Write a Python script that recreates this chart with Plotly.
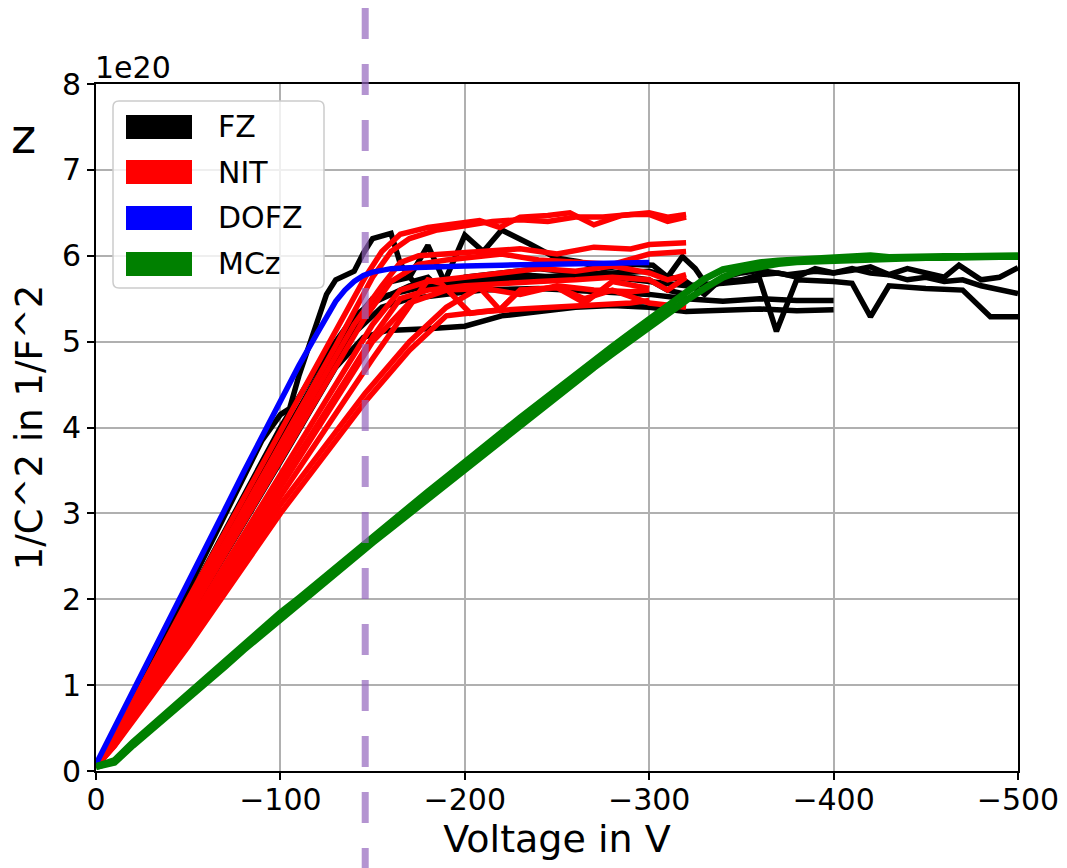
import plotly.graph_objects as go

# ---------------- data (y in units of 1e20 1/F^2) ----------------
SCALE = 1e20

# FZ (black)
fz1_v = [0, -10, -50, -90, -100, -105, -110, -120, -125, -130, -140, -145, -150, -160, -165, -172, -180, -187, -200, -210, -220, -235, -250, -262, -275, -290, -302, -310, -318, -325, -332, -340, -350, -360, -370, -380, -390, -400, -410, -420, -430, -440, -450, -460, -470, -480, -490, -500]
fz1_y = [0.05, 0.45, 2.12, 3.85, 4.15, 4.22, 4.6, 5.25, 5.55, 5.72, 5.82, 6.03, 6.2, 6.26, 5.91, 5.7, 5.75, 5.6, 6.24, 6.05, 6.3, 6.14, 5.97, 5.93, 5.85, 5.9, 5.89, 5.75, 5.99, 5.85, 5.63, 5.7, 5.72, 5.78, 5.8, 5.75, 5.85, 5.8, 5.85, 5.8, 5.78, 5.72, 5.75, 5.7, 5.72, 5.65, 5.6, 5.56]

fz2_v = [0, -10, -100, -130, -140, -150, -160, -170, -180, -200, -220, -240, -260, -280, -300, -320, -330, -340, -350, -360, -375, -390, -400, -410, -420, -430, -440, -450, -460, -468, -480, -490, -500]
fz2_y = [0.05, 0.4, 3.85, 4.95, 5.25, 5.5, 5.55, 5.6, 5.65, 5.7, 5.72, 5.75, 5.78, 5.8, 5.82, 5.7, 5.55, 5.75, 5.8, 5.83, 5.78, 5.82, 5.8, 5.83, 5.87, 5.78, 5.85, 5.8, 5.75, 5.89, 5.72, 5.75, 5.86]

fz3_v = [0, -10, -100, -130, -150, -160, -170, -180, -190, -200, -220, -240, -260, -280, -300, -320, -340, -360, -369, -380, -400, -410, -420, -430, -450, -470, -485, -500]
fz3_y = [0.05, 0.38, 3.7, 4.85, 5.5, 5.7, 5.75, 6.12, 5.65, 5.75, 5.8, 5.85, 5.8, 5.75, 5.7, 5.65, 5.68, 5.72, 5.12, 5.72, 5.7, 5.68, 5.29, 5.65, 5.62, 5.6, 5.29, 5.29]

fz4_v = [0, -10, -100, -140, -155, -170, -190, -210, -240, -270, -300, -320, -340, -360, -380, -400]
fz4_y = [0.05, 0.38, 3.75, 5.1, 5.4, 5.5, 5.55, 5.6, 5.62, 5.58, 5.55, 5.5, 5.47, 5.5, 5.48, 5.48]

fz5_v = [0, -10, -100, -130, -145, -158, -180, -200, -220, -240, -260, -280, -300, -320, -340, -360, -380, -400]
fz5_y = [0.05, 0.36, 3.6, 4.7, 5.05, 5.13, 5.15, 5.18, 5.3, 5.35, 5.4, 5.42, 5.4, 5.35, 5.37, 5.38, 5.36, 5.37]

fz6_v = [0, -10, -100, -120, -140, -150, -170, -190, -210, -230, -250, -270, -290, -300, -310, -320]
fz6_y = [0.05, 0.4, 4.0, 4.7, 5.3, 5.45, 5.65, 5.72, 5.72, 5.78, 5.75, 5.8, 5.75, 5.72, 5.6, 5.55]

# NIT (red)
nit1_v = [0, -10, -50, -100, -130, -146, -155, -165, -180, -200, -208, -219, -230, -245, -257, -270, -285, -300, -310, -320]
nit1_y = [0.05, 0.4, 2.0, 3.95, 5.1, 5.75, 6.05, 6.25, 6.33, 6.38, 6.41, 6.33, 6.45, 6.47, 6.5, 6.36, 6.47, 6.5, 6.45, 6.48]
nit2_v = [0, -10, -50, -100, -130, -150, -160, -170, -185, -200, -215, -230, -245, -260, -275, -290, -300, -310, -320]
nit2_y = [0.05, 0.38, 1.9, 3.8, 4.95, 5.75, 6.05, 6.2, 6.3, 6.35, 6.4, 6.42, 6.4, 6.45, 6.45, 6.48, 6.48, 6.4, 6.45]
nit3_v = [0, -10, -50, -100, -140, -155, -165, -175, -190, -210, -230, -250, -270, -290, -300, -320]
nit3_y = [0.05, 0.36, 1.85, 3.7, 5.2, 5.65, 5.92, 6.0, 6.02, 6.05, 6.08, 6.02, 6.1, 6.08, 6.13, 6.15]
nit4_v = [0, -10, -50, -100, -145, -160, -175, -190, -205, -220, -240, -260, -280, -300, -320]
nit4_y = [0.05, 0.35, 1.8, 3.6, 5.25, 5.7, 5.9, 5.95, 5.98, 6.02, 5.95, 5.92, 5.9, 6.02, 6.05]
nit5_v = [0, -10, -50, -100, -150, -165, -180, -200, -220, -240, -260, -280, -300, -310, -320]
nit5_y = [0.05, 0.34, 1.7, 3.45, 5.2, 5.6, 5.7, 5.75, 5.8, 5.85, 5.82, 5.88, 5.8, 5.72, 5.78]
nit6_v = [0, -10, -50, -100, -150, -170, -190, -210, -230, -250, -270, -290, -300]
nit6_y = [0.05, 0.32, 1.6, 3.3, 5.0, 5.45, 5.6, 5.62, 5.55, 5.65, 5.6, 5.58, 5.6]
nit7_v = [0, -10, -50, -100, -150, -170, -180, -187, -196, -203, -219, -230, -250, -265, -280, -300]
nit7_y = [0.05, 0.3, 1.55, 3.2, 4.8, 5.4, 5.72, 5.68, 5.48, 5.33, 5.37, 5.6, 5.63, 5.45, 5.7, 5.62]
nit8_v = [0, -10, -50, -100, -146, -170, -190, -208, -219, -230, -250, -265, -280, -300, -320]
nit8_y = [0.05, 0.3, 1.5, 3.1, 4.4, 5.0, 5.4, 5.63, 5.37, 5.6, 5.63, 5.5, 5.6, 5.45, 5.4]
nit9_v = [0, -10, -50, -100, -146, -170, -190, -210, -230, -260, -290, -300]
nit9_y = [0.05, 0.29, 1.45, 3.0, 4.3, 4.9, 5.3, 5.35, 5.38, 5.42, 5.45, 5.48]
nit10_v = [0, -10, -50, -100, -150, -165, -180, -200, -220, -240, -260, -280, -300, -310, -320]
nit10_y = [0.05, 0.33, 1.65, 3.35, 5.05, 5.5, 5.6, 5.65, 5.68, 5.7, 5.72, 5.75, 5.72, 5.6, 5.75]

# DOFZ (blue)
dofz_v = [0, -10, -20, -30, -40, -50, -60, -70, -80, -90, -100, -110, -120, -125, -130, -135, -140, -145, -150, -155, -160, -170, -180, -200, -220, -240, -260, -280, -300]
dofz_y = [0.08, 0.5, 0.93, 1.35, 1.78, 2.2, 2.62, 3.05, 3.48, 3.9, 4.33, 4.72, 5.1, 5.3, 5.47, 5.6, 5.7, 5.77, 5.81, 5.83, 5.85, 5.86, 5.87, 5.88, 5.89, 5.9, 5.9, 5.91, 5.92]

# MCz (green)
mcz_v = [0, -10, -20, -30, -40, -50, -60, -70, -80, -90, -100, -110, -120, -130, -140, -150, -160, -170, -180, -190, -200, -210, -220, -230, -240, -250, -260, -270, -280, -290, -300, -310, -320, -330, -340, -350, -360, -370, -380, -390, -400, -410, -420, -430, -440, -450, -460, -470, -480, -490, -500]
mcz1_y = [0.05, 0.12, 0.33, 0.52, 0.71, 0.9, 1.09, 1.28, 1.47, 1.65, 1.84, 2.01, 2.19, 2.37, 2.55, 2.73, 2.9, 3.07, 3.25, 3.42, 3.6, 3.77, 3.94, 4.11, 4.28, 4.45, 4.61, 4.77, 4.94, 5.1, 5.26, 5.42, 5.58, 5.73, 5.84, 5.89, 5.92, 5.94, 5.95, 5.96, 5.97, 5.98, 6.0, 5.98, 5.99, 5.99, 5.99, 5.99, 5.99, 6.0, 6.0]
mcz2_y = [0.05, 0.1, 0.3, 0.48, 0.67, 0.85, 1.04, 1.22, 1.41, 1.59, 1.78, 1.95, 2.13, 2.3, 2.48, 2.66, 2.83, 3.0, 3.18, 3.35, 3.53, 3.7, 3.87, 4.04, 4.21, 4.37, 4.53, 4.7, 4.86, 5.02, 5.17, 5.32, 5.48, 5.62, 5.75, 5.83, 5.88, 5.91, 5.93, 5.94, 5.95, 5.96, 5.97, 5.97, 5.98, 5.98, 5.98, 5.99, 5.99, 5.99, 5.99]

depletion_v = -146

legend_names = ["FZ", "NIT", "DOFZ", "MCz"]
legend_colors = ["black", "red", "blue", "green"]

x_ticks = [0, -100, -200, -300, -400, -500]
y_ticks = [0, 1, 2, 3, 4, 5, 6, 7, 8]

# ---------------- figure ----------------
FONT = "DejaVu Sans"
fig = go.Figure()

groups = [
    ("FZ", "black", 5.5, [(fz1_v, fz1_y), (fz2_v, fz2_y), (fz3_v, fz3_y), (fz4_v, fz4_y), (fz5_v, fz5_y), (fz6_v, fz6_y)]),
    ("NIT", "red", 5.5, [(nit1_v, nit1_y), (nit2_v, nit2_y), (nit3_v, nit3_y), (nit4_v, nit4_y), (nit5_v, nit5_y),
                         (nit6_v, nit6_y), (nit7_v, nit7_y), (nit8_v, nit8_y), (nit9_v, nit9_y), (nit10_v, nit10_y)]),
    ("DOFZ", "blue", 5.5, [(dofz_v, dofz_y)]),
    ("MCz", "green", 7, [(mcz_v, mcz1_y), (mcz_v, mcz2_y)]),
]
for name, color, w, curves in groups:
    for v, y in curves:
        fig.add_trace(go.Scatter(
            x=v, y=[val * SCALE for val in y], mode="lines", name=name,
            line=dict(color=color, width=w), showlegend=False, legendgroup=name))

# The page shows the figure offset by the 8px body margin; positions below
# are given in screenshot pixels and converted.
OFF = 8
W, H = 1067, 868
L, R, T, B = 96 - OFF, 1018 - OFF, 84 - OFF, 771 - OFF
PW, PH = R - L, B - T
def px(xp):
    return (xp - OFF - L) / PW
def py(yp):
    return (B - (yp - OFF)) / PH

shapes = []
# dashed vertical line (extends beyond the plot)
shapes.append(dict(type="line", xref="x", yref="paper", x0=depletion_v, x1=depletion_v,
                   y0=py(8), y1=py(880), layer="above",
                   line=dict(color="rgba(148,103,189,0.7)", width=7, dash="31px,25px")))

# manual legend
bx0, bx1, by0, by1 = px(113), px(324), py(288), py(101)
rx, ry = 6 / PW, 6 / PH
path = (f"M {bx0+rx},{by1} L {bx1-rx},{by1} Q {bx1},{by1} {bx1},{by1-ry} "
        f"L {bx1},{by0+ry} Q {bx1},{by0} {bx1-rx},{by0} L {bx0+rx},{by0} "
        f"Q {bx0},{by0} {bx0},{by0+ry} L {bx0},{by1-ry} Q {bx0},{by1} {bx0+rx},{by1} Z")
shapes.append(dict(type="path", xref="paper", yref="paper", path=path, layer="above",
                   fillcolor="rgba(255,255,255,0.8)", line=dict(color="#cccccc", width=1.5)))
annotations = []
centers = [127, 172, 218, 264]
for name, color, cy in zip(legend_names, legend_colors, centers):
    shapes.append(dict(type="rect", xref="paper", yref="paper", layer="above",
                       x0=px(126), x1=px(192), y0=py(cy + 12), y1=py(cy - 12),
                       fillcolor=color, line=dict(width=0)))
    annotations.append(dict(xref="paper", yref="paper", x=px(216), y=py(cy), text=name,
                            showarrow=False, xanchor="left", yanchor="middle",
                            font=dict(family=FONT, size=30, color="black")))

# offset text and clipped side text
annotations.append(dict(xref="paper", yref="paper", x=px(93), y=py(87), text="1e20",
                        showarrow=False, xanchor="left", yanchor="bottom",
                        font=dict(family=FONT, size=30, color="black")))
annotations.append(dict(xref="paper", yref="paper", x=px(38), y=py(136), text="Hz",
                        showarrow=False, xanchor="right", yanchor="middle",
                        font=dict(family=FONT, size=48, color="black")))

axis_common = dict(showline=True, linecolor="black", linewidth=1.6, mirror=True,
                   showgrid=True, gridcolor="#b0b0b0", gridwidth=1.5,
                   ticks="outside", ticklen=7, tickwidth=1.6, tickcolor="black",
                   zeroline=False, tickfont=dict(family=FONT, size=30, color="black"))

fig.update_layout(
    width=W, height=H,
    margin=dict(l=L, r=W - R, t=T, b=H - B),
    paper_bgcolor="white", plot_bgcolor="white",
    showlegend=False,
    shapes=shapes, annotations=annotations,
    xaxis=dict(range=[0, -500], tickvals=x_ticks,
               ticktext=[("\u2212" + str(-t)) if t < 0 else str(t) for t in x_ticks],
               ticklabelstandoff=-6,
               title=dict(text="Voltage in V", font=dict(family=FONT, size=38, color="black"), standoff=0),
               **axis_common),
    yaxis=dict(range=[0, 8 * SCALE], tickvals=[t * SCALE for t in y_ticks],
               ticktext=[str(t) for t in y_ticks],
               title=dict(text="1/C^2 in 1/F^2", font=dict(family=FONT, size=37, color="black"), standoff=10),
               **axis_common),
)

fig.write_html("out.html", config={"displayModeBar": False})
